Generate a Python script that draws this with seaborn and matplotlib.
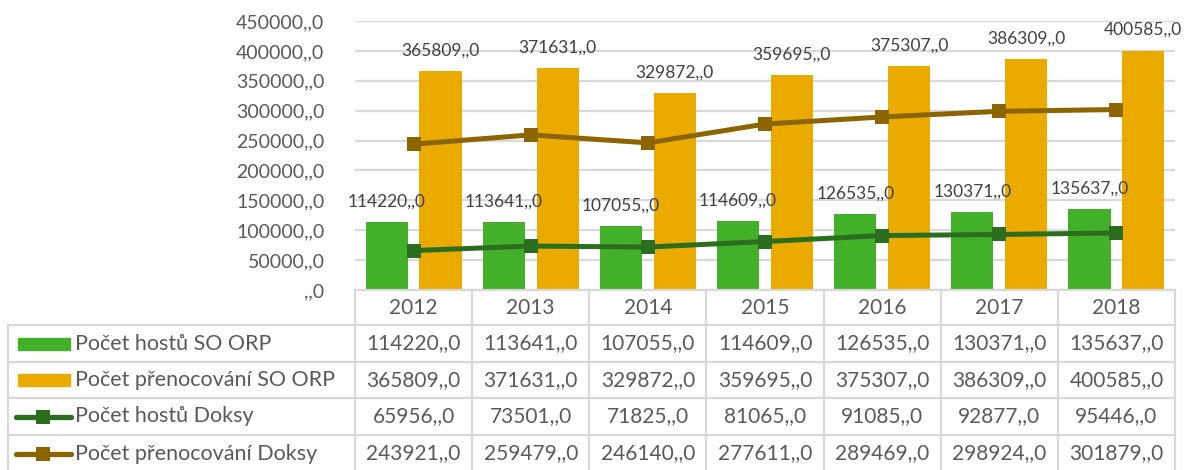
import numpy as np
import pandas as pd
import matplotlib
matplotlib.use("Agg")
import matplotlib.pyplot as plt
import seaborn as sns
from matplotlib.transforms import blended_transform_factory
from matplotlib.patches import Rectangle
from matplotlib.lines import Line2D

years = ["2012", "2013", "2014", "2015", "2016", "2017", "2018"]
hoste_orp = [114220, 113641, 107055, 114609, 126535, 130371, 135637]
prenoc_orp = [365809, 371631, 329872, 359695, 375307, 386309, 400585]
hoste_doksy = [65956, 73501, 71825, 81065, 91085, 92877, 95446]
prenoc_doksy = [243921, 259479, 246140, 277611, 289469, 298924, 301879]
series_names = ["Počet hostů SO ORP", "Počet přenocování SO ORP",
                "Počet hostů Doksy", "Počet přenocování Doksy"]

C_GREEN = "#43b02a"
C_ORANGE = "#eaaa00"
C_DGREEN = "#2b6e1f"
C_BROWN = "#8c6400"
TXT = "#595959"
GRID = "#d9d9d9"

sns.set_theme(style="white")
plt.rcParams["font.family"] = ["Lato", "DejaVu Sans"]

W, H = 1184, 470
fig = plt.figure(figsize=(W / 100, H / 100), dpi=100)
ax_l, ax_r, ax_t, ax_b = 355, 1175, 21, 290
ax = fig.add_axes([ax_l / W, 1 - ax_b / H, (ax_r - ax_l) / W, (ax_b - ax_t) / H])

def fmt(v):
    return f"{int(v)},,0" if v != 0 else ",,0"

df_bars = pd.DataFrame({
    "year": years * 2,
    "value": hoste_orp + prenoc_orp,
    "series": [series_names[0]] * 7 + [series_names[1]] * 7,
})
sns.barplot(data=df_bars, x="year", y="value", hue="series", order=years,
            hue_order=series_names[:2], palette=[C_GREEN, C_ORANGE],
            width=0.92, gap=0.22, linewidth=0, saturation=1, ax=ax, legend=False)

for cont in ax.containers:
    ax.bar_label(cont, labels=[fmt(v) for v in cont.datavalues], padding=9,
                 fontsize=12.5, color="#404040", clip_on=False)

xpos = np.arange(len(years))
for vals, col in [(hoste_doksy, C_DGREEN), (prenoc_doksy, C_BROWN)]:
    sns.lineplot(x=xpos, y=vals, color=col, marker="s", markersize=10.5,
                 linewidth=3.6, markeredgewidth=0, ax=ax, sort=False)

ax.set_xlim(-0.5, len(years) - 0.5)
ax.set_ylim(0, 450000)
ax.set_yticks(np.arange(0, 450001, 50000))
ax.set_yticklabels([fmt(v) for v in np.arange(0, 450001, 50000)])
ax.tick_params(axis="y", labelsize=14, colors=TXT, length=0, pad=22)
ax.tick_params(axis="x", labelbottom=False, length=0)
ax.set_xlabel("")
ax.set_ylabel("")
for s in ax.spines.values():
    s.set_visible(False)
ax.yaxis.grid(True, color=GRID, linewidth=1.6)
ax.set_axisbelow(True)

# ---- data table ----
tr = blended_transform_factory(ax.transData, fig.transFigure)
fy = lambda y: 1 - y / H
fx = lambda x: x / W
rows_y = [290, 325, 362, 398, 435, 472]
lkw = dict(color=GRID, linewidth=1.6, clip_on=False)

for i in range(len(years) + 1):
    fig.add_artist(Line2D([i - 0.5, i - 0.5], [fy(290), fy(472)], transform=tr, **lkw))
for y in rows_y[1:-1]:
    fig.add_artist(Line2D([fx(8), fx(ax_r)], [fy(y), fy(y)], transform=fig.transFigure, **lkw))
fig.add_artist(Line2D([fx(ax_l), fx(ax_r)], [fy(290), fy(290)], transform=fig.transFigure, **lkw))
fig.add_artist(Line2D([fx(8), fx(8)], [fy(325), fy(472)], transform=fig.transFigure, **lkw))

for i, yr in enumerate(years):
    fig.text(i, fy((rows_y[0] + rows_y[1]) / 2), yr, transform=tr, ha="center",
             va="center", fontsize=15, color=TXT)

table_vals = [hoste_orp, prenoc_orp, hoste_doksy, prenoc_doksy]
for r, vals in enumerate(table_vals):
    yc = (rows_y[r + 1] + rows_y[r + 2]) / 2
    for i, v in enumerate(vals):
        fig.text(i, fy(yc), fmt(v), transform=tr, ha="center", va="center",
                 fontsize=15, color=TXT)
    fig.text(fx(75), fy(yc), series_names[r], transform=fig.transFigure,
             ha="left", va="center", fontsize=15.5, color=TXT)

# legend keys
for r, col in enumerate([C_GREEN, C_ORANGE]):
    yc = (rows_y[r + 1] + rows_y[r + 2]) / 2
    fig.add_artist(Rectangle((fx(18), fy(yc + 6)), fx(52), 12 / H, color=col,
                             transform=fig.transFigure))
for r, col in [(2, C_DGREEN), (3, C_BROWN)]:
    yc = (rows_y[r + 1] + rows_y[r + 2]) / 2
    fig.add_artist(Line2D([fx(16), fx(71)], [fy(yc), fy(yc)], color=col,
                          linewidth=3.8, solid_capstyle="round", transform=fig.transFigure))
    fig.add_artist(Line2D([fx(43)], [fy(yc)], color=col, marker="s", markersize=10.5,
                          markeredgewidth=0, transform=fig.transFigure))

fig.savefig("out.png", dpi=100)
